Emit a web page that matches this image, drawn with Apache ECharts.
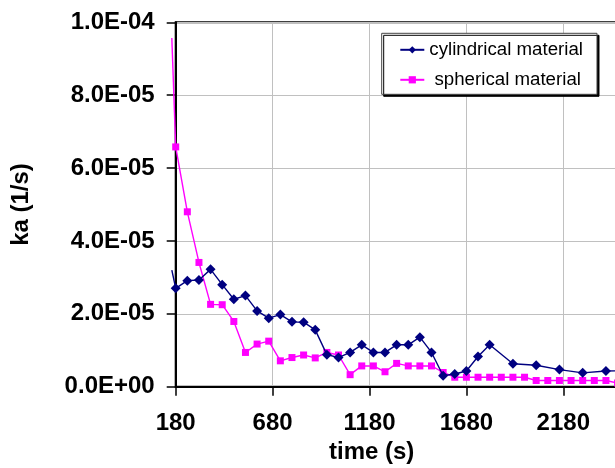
<!DOCTYPE html>
<html>
<head>
<meta charset="utf-8">
<script src="https://cdn.jsdelivr.net/npm/echarts@6/dist/echarts.min.js"></script>
<style>
  html, body { margin: 0; padding: 0; background: #fff; }
  #chart { width: 615px; height: 468px; }
</style>
</head>
<body>
<div id="chart"></div>
<script>
// Rate constant ka (1/s) over time for two sorbent shapes
const cylTime = [160, 180, 240, 300, 360, 420, 480, 540, 600, 660, 720, 780, 840, 900, 960, 1020,
  1080, 1140, 1200, 1260, 1320, 1380, 1440, 1500, 1560, 1620, 1680, 1740, 1800,
  1920, 2040, 2160, 2280, 2400, 2520];
const cylKa = [3.2e-5, 2.70e-5, 2.91e-5, 2.93e-5, 3.22e-5, 2.80e-5, 2.40e-5, 2.50e-5, 2.08e-5, 1.88e-5,
  1.98e-5, 1.78e-5, 1.77e-5, 1.56e-5, 0.88e-5, 0.80e-5, 0.94e-5, 1.15e-5, 0.94e-5, 0.94e-5,
  1.15e-5, 1.15e-5, 1.36e-5, 0.94e-5, 0.30e-5, 0.35e-5, 0.43e-5, 0.83e-5, 1.15e-5,
  0.63e-5, 0.59e-5, 0.47e-5, 0.38e-5, 0.43e-5, 0.44e-5];

const sphTime = [160, 180, 240, 300, 360, 420, 480, 540, 600, 660, 720, 780, 840, 900, 960, 1020,
  1080, 1140, 1200, 1260, 1320, 1380, 1440, 1500, 1560, 1620, 1680, 1740, 1800, 1860,
  1920, 1980, 2040, 2100, 2160, 2220, 2280, 2340, 2400, 2460];
const sphKa = [9.57e-5, 6.58e-5, 4.80e-5, 3.41e-5, 2.26e-5, 2.25e-5, 1.79e-5, 0.94e-5, 1.17e-5, 1.25e-5,
  0.71e-5, 0.80e-5, 0.87e-5, 0.79e-5, 0.94e-5, 0.87e-5, 0.33e-5, 0.57e-5, 0.57e-5, 0.41e-5,
  0.64e-5, 0.57e-5, 0.57e-5, 0.57e-5, 0.39e-5, 0.26e-5, 0.26e-5, 0.26e-5, 0.26e-5, 0.26e-5,
  0.26e-5, 0.26e-5, 0.17e-5, 0.17e-5, 0.17e-5, 0.17e-5, 0.17e-5, 0.17e-5, 0.17e-5, 0.10e-5];

const seriesNames = ['cylindrical material', ' spherical material'];
const seriesColors = ['#000080', '#ff00ff'];
const xTicks = { min: 180, max: 2680, step: 500 };
const yTicks = { min: 0, max: 1.0e-4, step: 2.0e-5 };

const FONT = '"Liberation Sans", Arial, sans-serif';

function pairs(times, values, from, to) {
  return times.slice(from, to).map((t, i) => [t, values[from + i]]);
}

function sci(v) {
  if (Math.abs(v) < 1e-20) return '0.0E+00';
  const parts = v.toExponential(1).split('e');
  const sign = parts[1][0] === '-' ? '-' : '+';
  const digits = parts[1].replace(/[+-]/, '').padStart(2, '0');
  return parts[0] + 'E' + sign + digits;
}

// lead-in segment from the sample before the axis start, drawn past the plot edge
function leadIn(name, times, values, color) {
  return {
    type: 'custom', name: name + ' lead', silent: true, clip: false, z: 4,
    coordinateSystem: 'cartesian2d',
    data: [[times[0], values[0], times[1], values[1]]],
    renderItem: (params, api) => {
      const a = api.coord([api.value(0), api.value(1)]);
      const b = api.coord([api.value(2), api.value(3)]);
      return {
        type: 'line',
        shape: { x1: a[0], y1: a[1], x2: b[0], y2: b[1] },
        style: { stroke: color, lineWidth: 1.4 }
      };
    }
  };
}

const chart = echarts.init(document.getElementById('chart'), null, { renderer: 'canvas' });
chart.setOption({
  animation: false,
  backgroundColor: '#ffffff',
  textStyle: { fontFamily: FONT },
  grid: {
    left: 175.7, top: 22.3, width: 484.5, height: 364.4,
    containLabel: false, outerBoundsMode: 'none',
    show: true, borderColor: '#000', borderWidth: 2, backgroundColor: 'transparent'
  },
  legend: {
    orient: 'vertical',
    left: 381.7, top: 33.3,
    padding: [6, 14, 4, 17.6],
    itemWidth: 24, itemHeight: 9, itemGap: 9,
    backgroundColor: '#fff',
    borderColor: '#444', borderWidth: 1,
    shadowColor: '#000', shadowBlur: 0, shadowOffsetX: 2, shadowOffsetY: 2,
    textStyle: { fontFamily: FONT, fontSize: 18.7, color: '#000', lineHeight: 21 },
    data: seriesNames
  },
  xAxis: {
    type: 'value',
    min: xTicks.min, max: xTicks.max, interval: xTicks.step,
    name: 'time (s)', nameLocation: 'middle', nameGap: 54,
    nameTextStyle: { fontFamily: FONT, fontSize: 24, fontWeight: 'bold', color: '#000', padding: [0, 92.6, 0, 0] },
    axisLine: { show: true, onZero: false, lineStyle: { color: '#000', width: 2 } },
    axisTick: { show: true, length: 9, lineStyle: { color: '#000', width: 1.5 } },
    axisLabel: { fontFamily: FONT, fontSize: 24, fontWeight: 'bold', color: '#000', margin: 25,
      formatter: v => String(v) },
    splitLine: { show: true, lineStyle: { color: '#c0c0c0', width: 1 } }
  },
  yAxis: {
    type: 'value',
    min: yTicks.min, max: yTicks.max, interval: yTicks.step,
    name: 'ka (1/s)', nameLocation: 'middle', nameGap: 142,
    nameTextStyle: { fontFamily: FONT, fontSize: 24, fontWeight: 'bold', color: '#000' },
    axisLine: { show: true, lineStyle: { color: '#000', width: 2 } },
    axisTick: { show: true, length: 9, lineStyle: { color: '#000', width: 1.5 } },
    axisLabel: { fontFamily: FONT, fontSize: 24, fontWeight: 'bold', color: '#000', margin: 21, formatter: sci },
    splitLine: { show: true, lineStyle: { color: '#c0c0c0', width: 1 } }
  },
  series: [
    {
      name: seriesNames[0], type: 'line', clip: false,
      data: pairs(cylTime, cylKa, 1),
      symbol: 'diamond', symbolSize: 10,
      lineStyle: { color: seriesColors[0], width: 1.4 },
      itemStyle: { color: seriesColors[0] },
      z: 3
    },
    {
      name: seriesNames[1], type: 'line', clip: false,
      data: pairs(sphTime, sphKa, 1),
      symbol: 'rect', symbolSize: 7,
      lineStyle: { color: seriesColors[1], width: 1.4 },
      itemStyle: { color: seriesColors[1] },
      z: 2
    },
    leadIn(seriesNames[0], cylTime, cylKa, seriesColors[0]),
    leadIn(seriesNames[1], sphTime, sphKa, seriesColors[1])
  ]
});
</script>
</body>
</html>
